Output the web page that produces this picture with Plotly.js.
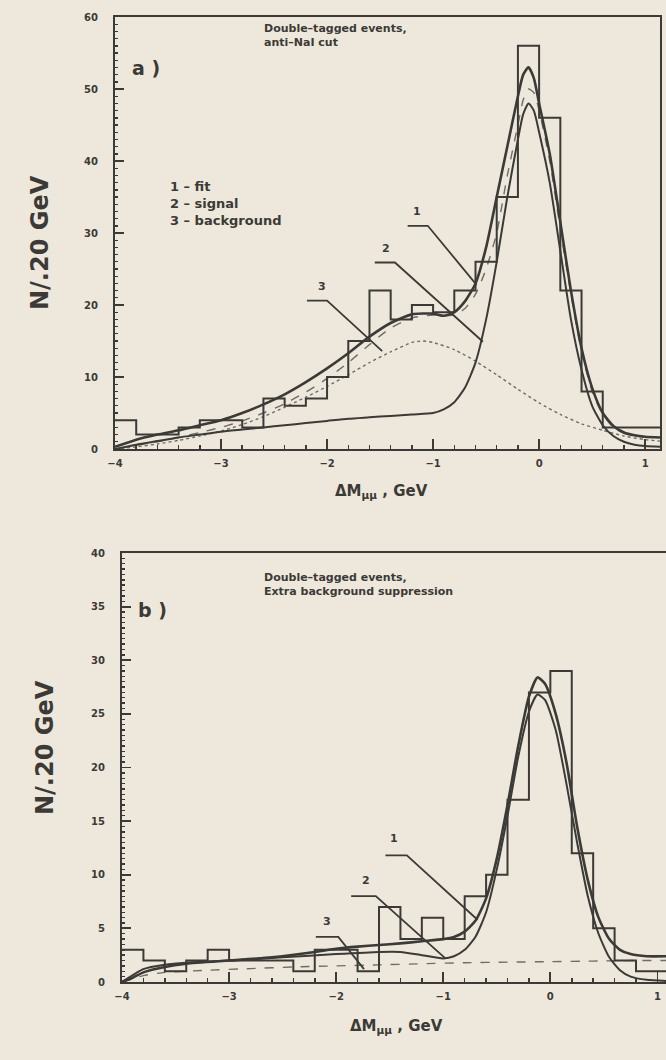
<!DOCTYPE html>
<html>
<head>
<meta charset="utf-8">
<script src="https://cdn.plot.ly/plotly-3.0.1.min.js"></script>
<style>
html,body{margin:0;padding:0;background:#eee8dc;}
#chart{width:666px;height:1060px;}
</style>
</head>
<body>
<div id="chart"></div>
<script>
// ---------- Panel a data ----------
const binEdgesA = [-4.0,-3.8,-3.6,-3.4,-3.2,-3.0,-2.8,-2.6,-2.4,-2.2,-2.0,-1.8,-1.6,-1.4,-1.2,-1.0,-0.8,-0.6,-0.4,-0.2,0.0,0.2,0.4,0.6,0.8,1.0,1.2];
const countsA = [4,2,2,3,4,4,3,7,6,7,10,15,22,18,20,19,22,26,35,56,46,22,8,3,3,3];

const xFitA = [-4.0,-3.8,-3.6,-3.4,-3.2,-3.0,-2.8,-2.6,-2.4,-2.2,-2.0,-1.8,-1.6,-1.4,-1.2,-1.0,-0.9,-0.8,-0.7,-0.6,-0.5,-0.4,-0.3,-0.2,-0.15,-0.1,-0.05,0.0,0.1,0.2,0.3,0.4,0.5,0.6,0.7,0.8,0.9,1.0,1.14];
const fitA = [0.3,1.3,2.0,2.6,3.3,4.0,5.0,6.2,7.6,9.3,11.2,13.3,15.6,17.5,18.7,18.8,18.5,19.0,20.5,23,28,35,42,49,52,53,51.5,48,41,31.5,22,14,8.5,5.0,3.2,2.3,1.9,1.7,1.6];

const xSigA = [-4.0,-3.8,-3.6,-3.4,-3.2,-3.0,-2.8,-2.6,-2.4,-2.2,-2.0,-1.8,-1.6,-1.4,-1.2,-1.0,-0.9,-0.8,-0.7,-0.6,-0.5,-0.4,-0.3,-0.2,-0.15,-0.1,-0.05,0.0,0.1,0.2,0.3,0.4,0.5,0.6,0.7,0.8,0.9,1.0,1.14];
const sigA = [0,0.6,1.1,1.6,2.0,2.4,2.7,3.0,3.3,3.6,3.9,4.2,4.4,4.6,4.8,5.0,5.5,6.5,8.5,12,18,26,35,43,46.5,48,47,44,37,27.5,18,11,6,3.3,1.8,1.0,0.6,0.4,0.3];

const xBgA = [-4.0,-3.8,-3.6,-3.4,-3.2,-3.0,-2.8,-2.6,-2.4,-2.2,-2.0,-1.8,-1.6,-1.4,-1.2,-1.1,-1.0,-0.8,-0.6,-0.4,-0.2,0.0,0.2,0.4,0.6,0.8,1.0,1.14];
const bgA = [0,0.3,0.7,1.2,1.8,2.5,3.4,4.5,5.8,7.2,8.7,10.3,12,13.5,14.8,15,14.8,13.8,12.2,10.3,8.3,6.4,4.8,3.5,2.6,1.8,1.3,1.1];

const xAltA = [-3.8,-3.6,-3.4,-3.2,-3.0,-2.8,-2.6,-2.4,-2.2,-2.0,-1.8,-1.6,-1.4,-1.2,-1.0,-0.8,-0.7,-0.6,-0.5,-0.4,-0.3,-0.2,-0.15,-0.1,-0.05,0.0,0.1,0.2,0.3,0.4,0.5,0.6,0.7,0.8,0.9,1.0];
const altA = [0.5,1.0,1.6,2.3,3.0,3.9,5.0,6.3,7.9,9.8,12,14.5,16.8,18.2,18.6,18.6,19.5,21.5,25,30,38,45,48.5,50,49.5,47,40,30.5,21.5,13.5,8,4.8,3.0,2.2,1.8,1.6];

// ---------- Panel b data ----------
const binEdgesB = [-4.0,-3.8,-3.6,-3.4,-3.2,-3.0,-2.8,-2.6,-2.4,-2.2,-2.0,-1.8,-1.6,-1.4,-1.2,-1.0,-0.8,-0.6,-0.4,-0.2,0.0,0.2,0.4,0.6,0.8,1.0,1.2];
const countsB = [3,2,1,2,3,2,2,2,1,3,3,1,7,4,6,4,8,10,17,27,29,12,5,2,1,1];

const xFitB = [-4.0,-3.9,-3.8,-3.6,-3.4,-3.0,-2.6,-2.2,-2.0,-1.8,-1.6,-1.4,-1.2,-1.0,-0.9,-0.8,-0.7,-0.6,-0.5,-0.4,-0.3,-0.2,-0.12,-0.05,0.05,0.15,0.25,0.35,0.45,0.55,0.65,0.75,0.9,1.08];
const fitB = [0,0.4,0.9,1.4,1.7,2.0,2.3,2.8,3.1,3.3,3.45,3.6,3.8,4.0,4.2,4.7,5.7,7.8,11.5,16.5,22,26.6,28.4,27.8,25,20.5,14.5,9.5,6,4,3,2.6,2.4,2.4];

const xSigB = [-4.0,-3.8,-3.6,-3.4,-3.0,-2.5,-2.0,-1.6,-1.4,-1.2,-1.0,-0.9,-0.8,-0.7,-0.6,-0.5,-0.4,-0.3,-0.2,-0.12,-0.05,0.05,0.15,0.25,0.35,0.45,0.55,0.65,0.75,0.9,1.08];
const sigB = [0,1.2,1.6,1.8,2.0,2.3,2.6,2.8,2.8,2.5,2.2,2.4,3.0,4.2,6.5,10.5,15.5,21,25.2,26.8,26.3,23.5,18.5,13,8,4.5,2.3,1.1,0.5,0.2,0.1];

const xBgB = [-4.0,-3.8,-3.6,-3.2,-2.8,-2.4,-2.0,-1.6,-1.2,-0.8,-0.4,0.0,0.4,0.8,1.08];
const bgB = [0,0.6,0.9,1.1,1.25,1.4,1.5,1.6,1.7,1.8,1.85,1.9,1.95,2.0,2.0];

// ---------- styling ----------
const INK = '#3b3a36';
const GREY = '#6e6c66';
const FONT = 'DejaVu Sans, Verdana, sans-serif';

function stepTrace(edges, counts, xa, ya) {
  const ys = counts.concat([counts[counts.length - 1]]);
  return {x: edges, y: ys, xaxis: xa, yaxis: ya, mode: 'lines',
    line: {shape: 'hv', color: INK, width: 2}, hoverinfo: 'skip', showlegend: false};
}
function curve(x, y, xa, ya, width, dash, color) {
  return {x: x, y: y, xaxis: xa, yaxis: ya, mode: 'lines',
    line: {shape: 'spline', smoothing: 0.6, color: color || INK, width: width, dash: dash || 'solid'},
    hoverinfo: 'skip', showlegend: false};
}
function leader(x, y, xa, ya) {
  return {x: x, y: y, xaxis: xa, yaxis: ya, mode: 'lines', line: {color: INK, width: 1.8},
    showlegend: false, hoverinfo: 'skip'};
}

const traces = [
  curve(xBgA, bgA, 'x', 'y', 1.4, 'dot', GREY),
  curve(xAltA, altA, 'x', 'y', 1.4, 'dash', GREY),
  curve(xSigA, sigA, 'x', 'y', 2, 'solid'),
  curve(xFitA, fitA, 'x', 'y', 2.6, 'solid'),
  stepTrace(binEdgesA, countsA, 'x', 'y'),
  leader([-2.19, -2.0, -1.48], [20.6, 20.6, 13.6], 'x', 'y'),
  leader([-1.55, -1.36, -0.53], [25.9, 25.9, 14.9], 'x', 'y'),
  leader([-1.24, -1.05, -0.59], [31.0, 31.0, 22.8], 'x', 'y'),

  curve(xBgB, bgB, 'x2', 'y2', 1.4, 'dash', GREY),
  curve(xSigB, sigB, 'x2', 'y2', 2, 'solid'),
  curve(xFitB, fitB, 'x2', 'y2', 2.6, 'solid'),
  stepTrace(binEdgesB, countsB, 'x2', 'y2'),
  leader([-2.19, -1.98, -1.74], [4.2, 4.2, 1.2], 'x2', 'y2'),
  leader([-1.86, -1.63, -0.98], [8.0, 8.0, 2.2], 'x2', 'y2'),
  leader([-1.54, -1.34, -0.68], [11.8, 11.8, 5.8], 'x2', 'y2')
];

const tickFont = {family: FONT, size: 10, color: INK, weight: 'bold'};
function xaxisDef(range, domain, anchor) {
  return {domain: domain, range: range, anchor: anchor,
    tickvals: [-4,-3,-2,-1,0,1], ticktext: ['\u22124','\u22123','\u22122','\u22121','0','1'],
    ticks: 'inside', ticklen: 10, tickwidth: 1.8, tickcolor: INK,
    minor: {dtick: 0.2, tick0: 0, ticks: 'inside', ticklen: 4, tickwidth: 1.5, tickcolor: INK, showgrid: false},
    showline: true, linewidth: 2, linecolor: INK, mirror: true,
    showgrid: false, zeroline: false, tickfont: tickFont, ticklabelstandoff: 4};
}
function yaxisDef(range, domain, anchor, dtick, mdtick, mirror) {
  return {domain: domain, range: range, anchor: anchor, dtick: dtick, tick0: 0,
    ticks: 'inside', ticklen: 9, tickwidth: 1.8, tickcolor: INK,
    minor: {dtick: mdtick, tick0: 0, ticks: 'inside', ticklen: 3, tickwidth: 1.4, tickcolor: INK, showgrid: false},
    showline: true, linewidth: 2, linecolor: INK, mirror: mirror,
    showgrid: false, zeroline: false, tickfont: tickFont, ticklabelstandoff: 13};
}
function txt(x, y, text, size, extra) {
  return Object.assign({xref: 'paper', yref: 'paper', x: x / W, y: 1 - y / H, text: text, showarrow: false,
    font: {family: FONT, size: size, color: INK, weight: 'bold'}, xanchor: 'center', yanchor: 'middle'}, extra || {});
}
function num(xa, ya, x, y, text) {
  return {xref: xa, yref: ya, x: x, y: y, text: text, showarrow: false,
    font: {family: FONT, size: 11, color: INK, weight: 'bold'}};
}

const W = 666, H = 1060;
const layout = {
  width: W, height: H,
  margin: {l: 0, r: 0, t: 0, b: 0},
  paper_bgcolor: '#eee8dc', plot_bgcolor: 'rgba(0,0,0,0)',
  showlegend: false,
  xaxis: xaxisDef([-4, 1.14], [115 / W, 660 / W], 'y'),
  yaxis: yaxisDef([0, 60], [1 - 449 / H, 1 - 17 / H], 'x', 10, 1, true),
  xaxis2: xaxisDef([-4, 1.08], [122 / W, 1], 'y2'),
  yaxis2: yaxisDef([0, 40], [1 - 982 / H, 1 - 553 / H], 'x2', 5, 0.5, false),
  annotations: [
    txt(146, 68, 'a )', 19),
    txt(262, 36, 'Double\u2013tagged events,<br>anti\u2013NaI cut', 11, {xanchor: 'left', align: 'left'}),
    txt(168, 203, '1 \u2013 fit<br>2 \u2013 signal<br>3 \u2013 background', 13, {xanchor: 'left', align: 'left'}),
    num('x', 'y', -2.05, 22.6, '3'),
    num('x', 'y', -1.44, 27.9, '2'),
    num('x', 'y', -1.15, 33.0, '1'),
    txt(40, 243, 'N/.20 GeV', 24, {textangle: -90}),
    txt(382, 491, '\u0394M<sub>\u03bc\u03bc</sub> , GeV', 15),

    txt(152, 610, 'b )', 19),
    txt(262, 584, 'Double\u2013tagged events,<br>Extra background suppression', 11, {xanchor: 'left', align: 'left'}),
    num('x2', 'y2', -2.09, 5.6, '3'),
    num('x2', 'y2', -1.72, 9.5, '2'),
    num('x2', 'y2', -1.46, 13.4, '1'),
    txt(45, 748, 'N/.20 GeV', 24, {textangle: -90}),
    txt(396, 1026, '\u0394M<sub>\u03bc\u03bc</sub> , GeV', 15)
  ]
};

Plotly.newPlot('chart', traces, layout, {staticPlot: true, displayModeBar: false});
</script>
</body>
</html>
